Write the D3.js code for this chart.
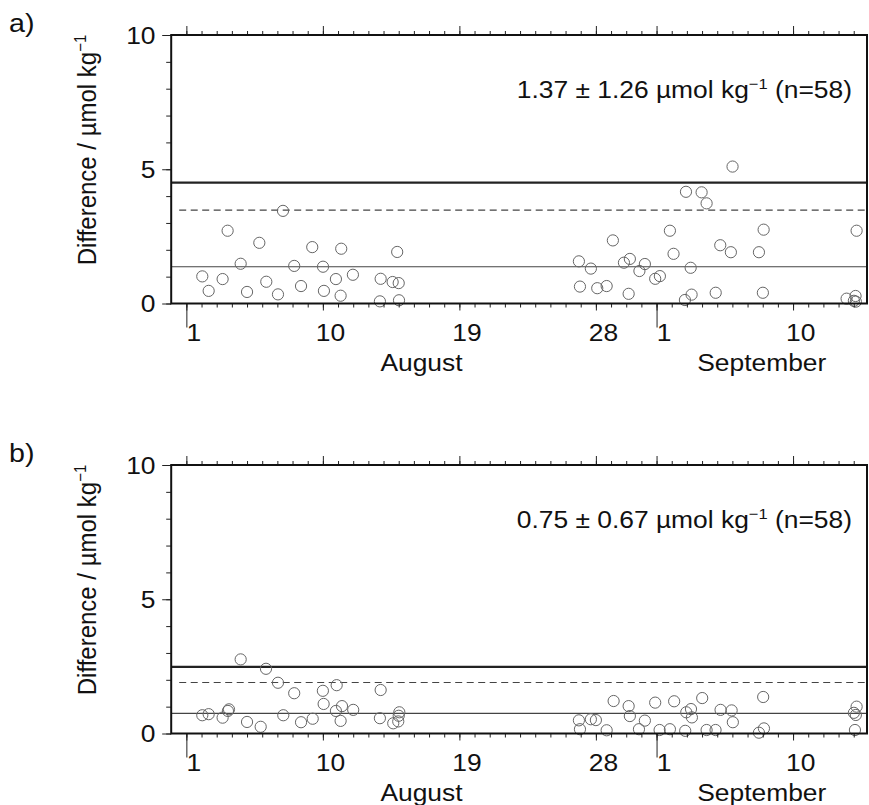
<!DOCTYPE html>
<html><head><meta charset="utf-8">
<script src="https://cdn.jsdelivr.net/npm/d3@7"></script>
<style>
body{margin:0;background:#fff}
svg{display:block}
text{font-family:"Liberation Sans",Arial,Helvetica,sans-serif;fill:#111}
</style>
</head><body>
<svg id="chart" width="869" height="805"></svg>
<script>
// decimal day, 1.0 = 1 August 00:00 UTC (September days continue as 32, 33, ...)
const dayA = [2.05,2.47,3.39,3.72,4.58,5.00,5.81,6.27,7.04,7.37,8.11,8.56,9.30,10.01,10.07,10.86,11.17,11.21,11.98,13.81,13.76,14.60,14.90,15.00,15.02,
  26.88,26.95,27.67,28.09,28.71,29.12,29.85,30.24,30.16,30.87,31.23,31.91,32.22,32.88,33.12,33.87,33.94,34.25,34.31,34.97,35.30,35.90,36.20,36.90,37.01,38.75,39.01,39.06,44.53,45.12,45.01,45.19,45.14];
const valA = [1.01,0.47,0.91,2.71,1.48,0.43,2.26,0.81,0.34,3.45,1.40,0.65,2.10,1.37,0.47,0.91,0.29,2.04,1.07,0.92,0.08,0.80,1.92,0.76,0.12,
  1.57,0.63,1.30,0.57,0.65,2.35,1.52,1.66,0.36,1.21,1.47,0.92,1.02,2.71,1.85,0.13,4.16,1.33,0.33,4.14,3.73,0.40,2.17,1.91,5.10,1.91,0.40,2.75,0.18,0.28,0.10,2.71,0.07];
const dayB = [2.05,2.47,3.39,3.74,3.81,4.58,5.00,5.90,6.25,7.04,7.39,8.11,8.56,9.33,10.00,10.05,10.91,10.86,11.26,11.17,12.00,13.81,13.76,14.64,15.04,15.00,14.97,
  26.88,26.95,27.67,28.00,28.71,29.17,30.16,30.24,30.84,31.23,31.91,32.20,32.88,33.16,33.89,33.96,34.27,34.33,35.01,35.30,35.89,36.22,36.95,37.03,38.75,39.03,39.08,45.19,45.01,45.14,45.08];
const valB = [0.68,0.72,0.59,0.84,0.90,2.76,0.43,0.25,2.41,1.89,0.68,1.50,0.42,0.55,1.59,1.10,1.80,0.84,1.02,0.47,0.88,1.62,0.57,0.38,0.79,0.66,0.45,
  0.49,0.16,0.53,0.50,0.12,1.21,1.02,0.65,0.16,0.48,1.15,0.13,0.16,1.20,0.10,0.79,0.91,0.60,1.32,0.13,0.13,0.88,0.86,0.42,0.03,1.36,0.19,1.00,0.77,0.69,0.13];

const panelLabels = ["a)", "b)"];
const meanVals = [1.37, 0.75];
const sdVals = [1.26, 0.67];
const nVals = [58, 58];
const dashedLevels = [3.48, 1.90];
const solidLevels = [4.50, 2.48];
const yMajorTicks = [0, 5, 10];
const yMinorTicks = [0,1,2,3,4,5,6,7,8,9,10];
const labelledDays = [1, 10, 19, 28, 32, 41];     // 1,10,19,28 Aug; 1,10 Sep
const monthStartDays = [1, 32];
const monthNames = ["August", "September"];
const yLabelText = "Difference / \u00b5mol kg";

const SX = 1.1; // horizontal stretch of the lettering in the original
const dayToDate = d => new Date(Date.UTC(2000, 7, 1) + (d - 1) * 864e5);
const domainStart = dayToDate(0), domainEnd = dayToDate(45.875);
const x = d3.scaleUtc().domain([domainStart, domainEnd]).range([171.2, 867]);
const svg = d3.select("#chart");

const panels = [
  {days: dayA, vals: valA, top: 35},
  {days: dayB, vals: valB, top: 465}
];
const H = 268.5;

function stext(g, tx, ty, str, size, anchor, extra) {
  const t = g.append("text")
    .attr("transform", `translate(${tx},${ty}) scale(${SX},1)${extra||""}`)
    .attr("text-anchor", anchor).attr("font-size", size).text(str);
  return t;
}

panels.forEach((p, i) => {
  const top = p.top, bottom = top + H;
  const y = d3.scaleLinear().domain([0, 10]).range([bottom, top]);
  const g = svg.append("g");

  // reference lines
  g.append("line").attr("x1", x.range()[0]).attr("x2", x.range()[1])
    .attr("y1", y(meanVals[i])).attr("y2", y(meanVals[i]))
    .attr("stroke", "#444").attr("stroke-width", 1.1);
  g.append("line").attr("x1", x.range()[0] + 8).attr("x2", x.range()[1])
    .attr("y1", y(dashedLevels[i])).attr("y2", y(dashedLevels[i]))
    .attr("stroke", "#444").attr("stroke-width", 1.2).attr("stroke-dasharray", "7,4.5");
  g.append("line").attr("x1", x.range()[0]).attr("x2", x.range()[1])
    .attr("y1", y(solidLevels[i])).attr("y2", y(solidLevels[i]))
    .attr("stroke", "#222").attr("stroke-width", 2.2);

  // points
  g.append("g").selectAll("circle").data(p.days.map((d, k) => [d, p.vals[k]]))
    .join("circle")
    .attr("cx", d => x(dayToDate(d[0]))).attr("cy", d => y(d[1]))
    .attr("r", 5.6).attr("fill", "none").attr("stroke", "#666").attr("stroke-width", 1);

  const allDays = d3.utcDay.range(dayToDate(1), domainEnd);
  const majorDates = labelledDays.map(dayToDate);
  const monthDates = monthStartDays.map(dayToDate);
  const styleAxis = sel => { sel.select(".domain").remove(); sel.selectAll("line").attr("stroke", "#222").attr("stroke-width", 1); sel.selectAll("text").remove(); };

  // bottom axis ticks
  g.append("g").attr("transform", `translate(0,${bottom})`)
    .call(d3.axisBottom(x).tickValues(allDays).tickSize(4).tickFormat("")).call(styleAxis);
  g.append("g").attr("transform", `translate(0,${bottom})`)
    .call(d3.axisBottom(x).tickValues(majorDates).tickSize(7).tickFormat("")).call(styleAxis);
  g.append("g").attr("transform", `translate(0,${bottom})`)
    .call(d3.axisBottom(x).tickValues(monthDates).tickSize(24).tickFormat("")).call(styleAxis);
  // top axis ticks
  g.append("g").attr("transform", `translate(0,${top})`)
    .call(d3.axisTop(x).tickValues(allDays).tickSize(4).tickFormat("")).call(styleAxis);
  g.append("g").attr("transform", `translate(0,${top})`)
    .call(d3.axisTop(x).tickValues(majorDates).tickSize(9).tickFormat("")).call(styleAxis);
  // left axis ticks
  g.append("g").attr("transform", `translate(${x.range()[0]},0)`)
    .call(d3.axisLeft(y).tickValues(yMinorTicks).tickSize(5).tickFormat("")).call(styleAxis);
  g.append("g").attr("transform", `translate(${x.range()[0]},0)`)
    .call(d3.axisLeft(y).tickValues(yMajorTicks).tickSize(9).tickFormat("")).call(styleAxis);

  // frame
  g.append("rect").attr("x", x.range()[0]).attr("y", top)
    .attr("width", x.range()[1] - x.range()[0]).attr("height", H)
    .attr("fill", "none").attr("stroke", "#111").attr("stroke-width", 2);

  // day labels (centred at noon)
  labelledDays.forEach(d => {
    const dt = d > 31 ? d - 31 : d;
    stext(g, x(dayToDate(d + 0.5)), bottom + 37.5, String(dt), 24, "middle");
  });
  // month labels
  monthStartDays.forEach((d, k) => {
    const a = Math.max(x(dayToDate(d)), x.range()[0]);
    const b = k + 1 < monthStartDays.length ? x(dayToDate(monthStartDays[k + 1])) : x.range()[1];
    stext(g, (a + b) / 2, bottom + 67.5, monthNames[k], 24, "middle");
  });
  // y tick labels
  yMajorTicks.forEach(v => stext(g, 155.5, y(v) + 8.6, String(v), 24, "end"));

  // y axis title
  const yl = stext(g, 96, top + 115, yLabelText, 24, "middle", " rotate(-90)");
  yl.append("tspan").attr("font-size", 15).attr("dy", -9).text("\u22121");

  // annotation
  const ann = stext(g, 852, top + 63, `${meanVals[i].toFixed(2)} \u00b1 ${sdVals[i].toFixed(2)} \u00b5mol kg`, 24, "end");
  ann.append("tspan").attr("font-size", 15).attr("dy", -9).text("\u22121");
  ann.append("tspan").attr("font-size", 24).attr("dy", 9).text(` (n=${nVals[i]})`);

  // panel label
  stext(g, 9, top - 3, panelLabels[i], 26, "start");
});
</script>
</body></html>
